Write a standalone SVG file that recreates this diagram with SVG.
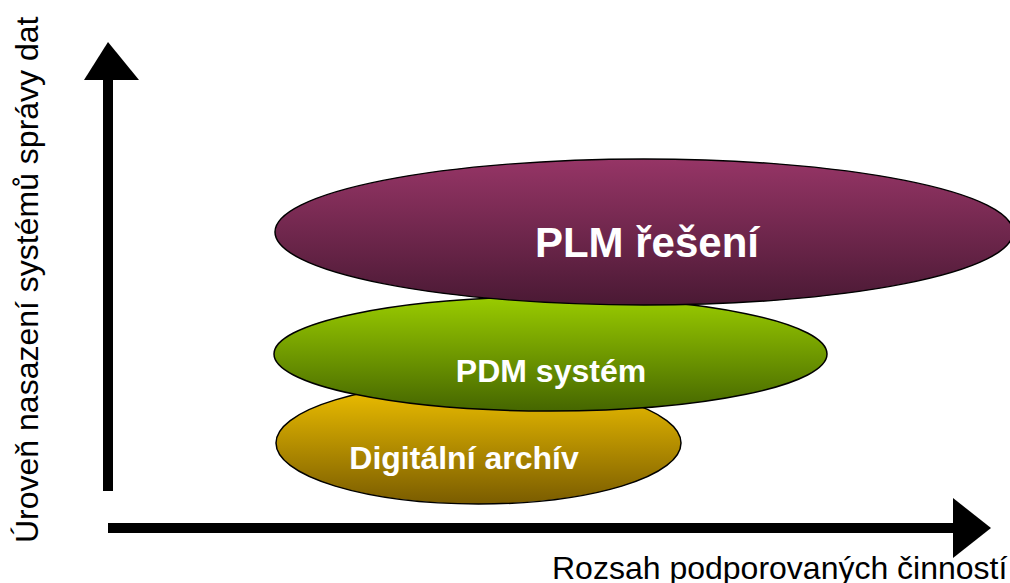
<svg xmlns="http://www.w3.org/2000/svg" width="1010" height="583" viewBox="0 0 1010 583">
<style>
.ax{fill:#000}
.lbl{font-family:"Liberation Sans",Arial,sans-serif;font-size:32px;fill:#000}
.nt{font-family:"Liberation Sans",Arial,sans-serif;font-weight:bold;fill:#fff;text-anchor:middle}
.el{stroke:#000;stroke-width:1.5}
</style>
<defs>
<linearGradient id="gPlm" x1="0" y1="0" x2="0" y2="1">
<stop offset="0" stop-color="#963566"/>
<stop offset="1" stop-color="#4a1934"/>
</linearGradient>
<linearGradient id="gPdm" x1="0" y1="0" x2="0" y2="1">
<stop offset="0" stop-color="#9acc00"/>
<stop offset="1" stop-color="#456600"/>
</linearGradient>
<linearGradient id="gDig" x1="0" y1="0" x2="0" y2="1">
<stop offset="0" stop-color="#f2c300"/>
<stop offset="1" stop-color="#7a5c00"/>
</linearGradient>
</defs>
<rect width="1010" height="583" fill="#fff"/>
<g id="axes">
<rect class="ax" x="103" y="78" width="10" height="413"/>
<polygon class="ax" points="108,42 139,80 84,80"/>
<rect class="ax" x="108" y="523" width="846" height="10"/>
<polygon class="ax" points="991,528 953,498 953,558"/>
</g>
<text class="lbl" transform="translate(38,543) rotate(-90)">Úroveň nasazení systémů správy dat</text>
<text class="lbl" x="552" y="579">Rozsah podporovaných činností</text>
<g id="digital">
<ellipse class="el" cx="478.5" cy="443" rx="202.5" ry="61" fill="url(#gDig)"/>
<text class="nt" x="464" y="469" font-size="32">Digitální archív</text>
</g>
<g id="pdm">
<ellipse class="el" cx="550.5" cy="354" rx="276.5" ry="57" fill="url(#gPdm)"/>
<text class="nt" x="551" y="382" font-size="32">PDM systém</text>
</g>
<g id="plm">
<ellipse class="el" cx="644" cy="232" rx="369" ry="73" fill="url(#gPlm)"/>
<text class="nt" x="647" y="257" font-size="42">PLM řešení</text>
</g>
</svg>
